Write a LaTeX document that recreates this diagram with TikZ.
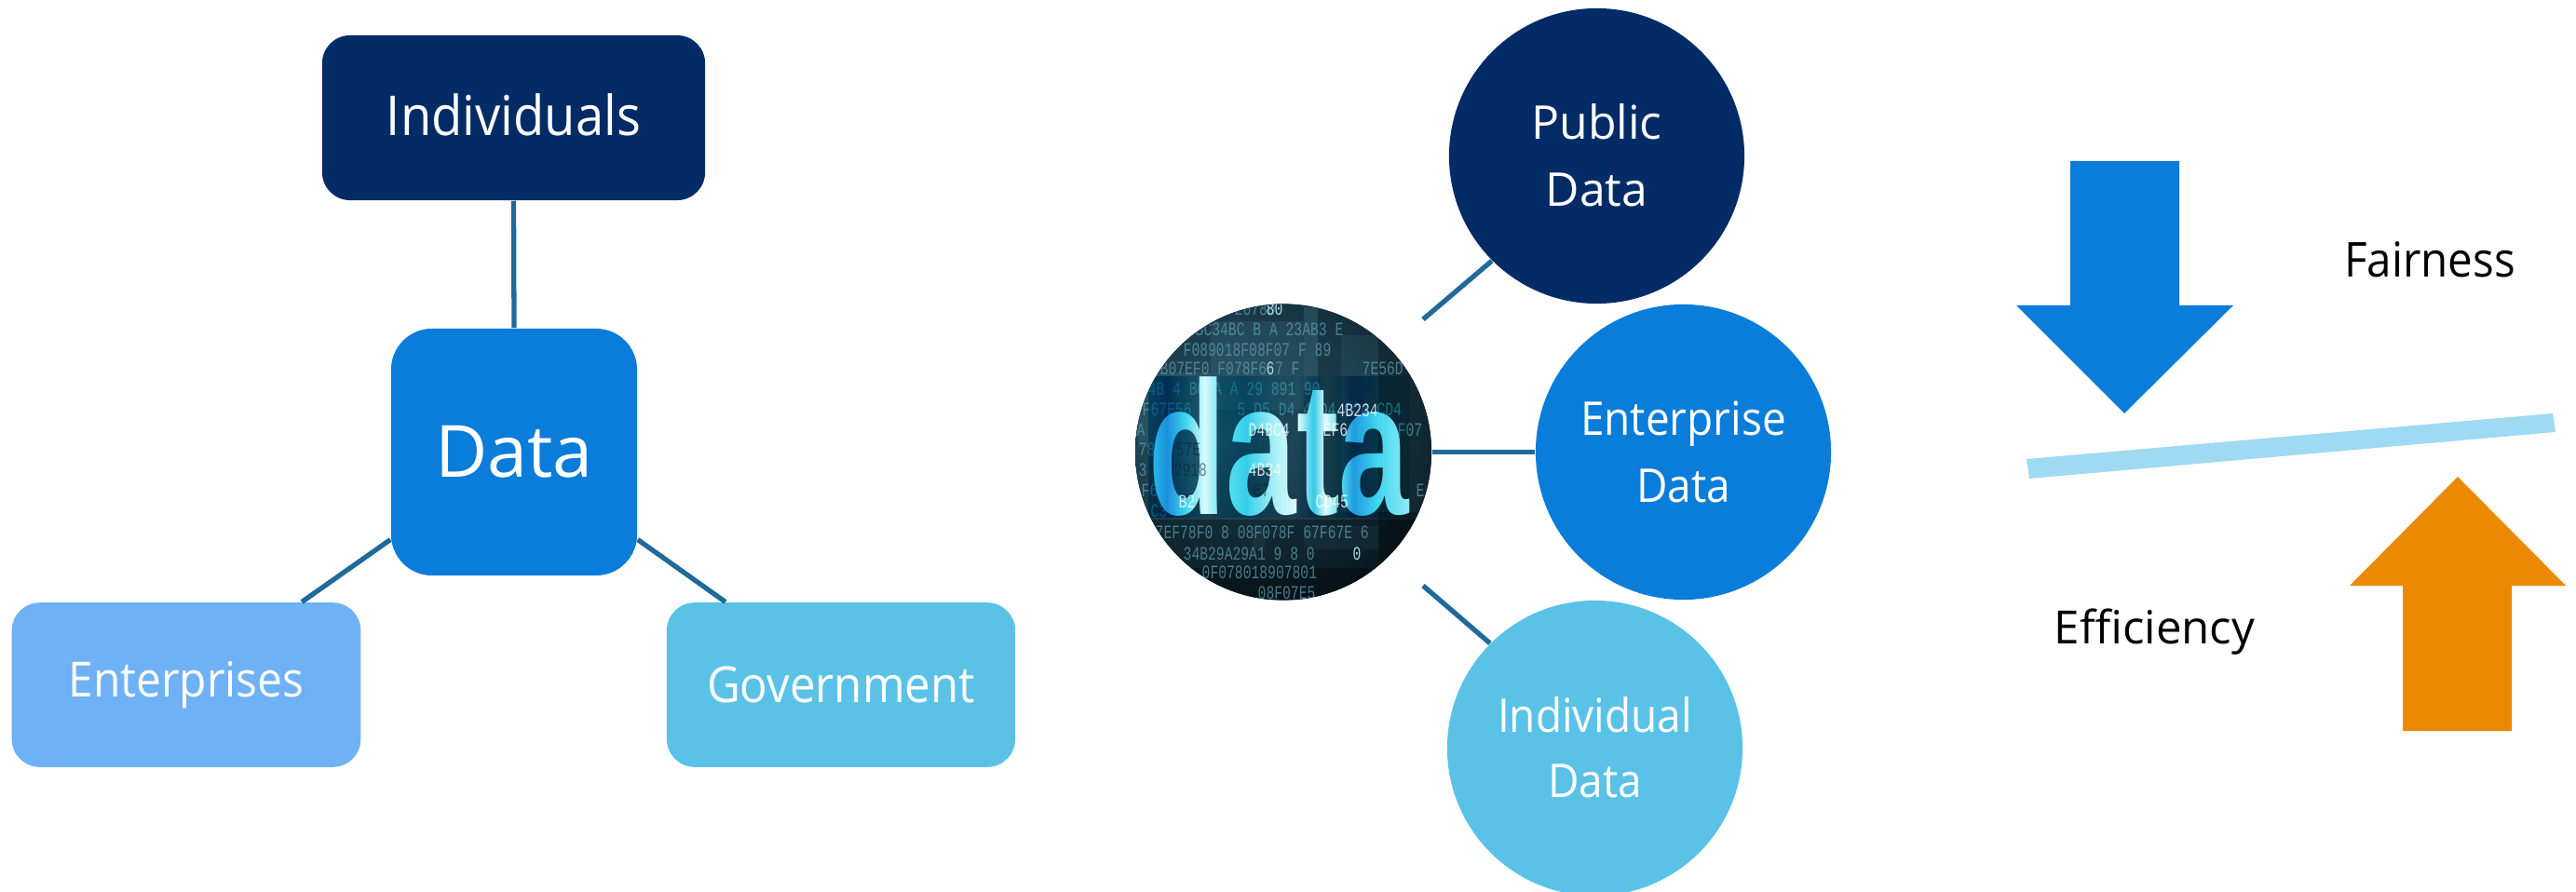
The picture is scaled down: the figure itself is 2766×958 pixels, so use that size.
\documentclass[tikz,border=0pt]{standalone}
\usepackage{fontspec}
\setmainfont{Open Sans}
\newfontfamily\nfont[FakeStretch=0.92]{Open Sans}
\newfontfamily\hexfont{Liberation Mono}
\newfontfamily\bigfont{Liberation Sans}[BoldFont={Liberation Sans Bold}]
\usetikzlibrary{calc,positioning,shapes.geometric}
\definecolor{navy}{HTML}{032C67}
\definecolor{midblue}{HTML}{0A7CD9}
\definecolor{softblue}{HTML}{6FB1F5}
\definecolor{teal}{HTML}{5BC2E7}
\definecolor{linkc}{HTML}{1F6A99}
\definecolor{orangec}{HTML}{EB8900}
\definecolor{barc}{HTML}{A0D9F2}
\definecolor{hexc}{HTML}{5A9AAE}
\definecolor{hexb}{HTML}{A9DAE4}
\definecolor{hubIn}{HTML}{2A5669}
\definecolor{hubOut}{HTML}{0D222C}
\definecolor{wA}{HTML}{2AC6E8}
\definecolor{wB}{HTML}{1C8FDC}
\definecolor{wC}{HTML}{3FD6EE}
\definecolor{wD}{HTML}{D8FAFC}
\definecolor{wE}{HTML}{5FE3F2}
\definecolor{wF}{HTML}{34CFEA}
\definecolor{wG}{HTML}{A8F0F8}
\definecolor{wH}{HTML}{E0FBFC}
\definecolor{wI}{HTML}{35C8E6}
\definecolor{wJ}{HTML}{1F9ADF}
\definecolor{wK}{HTML}{8FEBF5}
\pgfdeclarehorizontalshading{wordshade}{100bp}{
 color(0bp)=(wA);
 color(25bp)=(wA);
 color(28.6bp)=(wB);
 color(32.1bp)=(wC);
 color(35.7bp)=(wD);
 color(39.3bp)=(wE);
 color(43.8bp)=(wF);
 color(49.1bp)=(wG);
 color(53.6bp)=(wH);
 color(56.6bp)=(wI);
 color(58.9bp)=(wH);
 color(61.6bp)=(wE);
 color(64.3bp)=(wJ);
 color(68.8bp)=(wC);
 color(75bp)=(wK);
 color(100bp)=(wK)}
\tikzset{
 x=0.01cm,y=-0.01cm,
 boxnode/.style={draw=none,rounded corners=0.3cm,inner sep=0pt,text=white,align=center},
 circ/.style={circle,minimum size=3.17cm,inner sep=0pt,text=white,align=center},
 link/.style={draw=linkc,line width=1.5pt},
 hexrow/.style={anchor=base west,inner sep=0pt,text=hexc,text opacity=.75,font=\hexfont\fontsize{5.8}{6}\selectfont},
 hexbright/.style={hexrow,text=hexb,text opacity=1},
 hexover/.style={hexrow,text=white,text opacity=.8},
 hexdark/.style={hexrow,text=hubOut,text opacity=.55},
 dtext/.style={inner sep=0pt,font=\bigfont\bfseries\fontsize{58}{60}\selectfont},
 label/.style={inner sep=0pt,text=black,anchor=base},
}
\newcommand{\sq}[1]{\scalebox{.72}[1]{#1}}
\newcommand{\dw}{\scalebox{.665}[1]{data}}
\begin{document}
\begin{tikzpicture}
\useasboundingbox (0,0) rectangle (2766,958);
% left cluster
\node[boxnode,fill=navy,minimum width=4.11cm,minimum height=1.77cm] (indiv) at (551.5,126.5) {\raisebox{2pt}{\nfont\fontsize{16.8}{19}\selectfont Individuals}};
\node[boxnode,fill=midblue,minimum width=2.64cm,minimum height=2.65cm,rounded corners=0.44cm,font=\fontsize{22}{26}\selectfont] (dat) at (552,485.5) {Data};
\node[boxnode,fill=softblue,minimum width=3.745cm,minimum height=1.765cm,font=\nfont\fontsize{14.8}{18}\selectfont] (ent) at (200,735.5) {\raisebox{-1.5pt}{Enterprises}};
\node[boxnode,fill=teal,minimum width=3.74cm,minimum height=1.765cm,font=\nfont\fontsize{15.2}{18}\selectfont] (gov) at (903,735.5) {Government};
\draw[link] (indiv.south) -- (dat.north);
\draw[link] ([yshift=-0.94cm]dat.west) -- ([xshift=1.24cm]ent.north);
\draw[link] ([yshift=-0.94cm]dat.east) -- ([xshift=-1.24cm]gov.north);
% middle cluster
\node[circle,minimum size=3.18cm,inner sep=0pt,fill=hubOut] (hub) at (1378,485.5) {};
\begin{scope}
\clip (1378,485.5) circle[radius=159];
\shade[inner color=hubIn,outer color=hubOut] (1080,230) rectangle (1560,710);
\fill[hexc,opacity=.18] (1222,400) rectangle (1300,480);
\fill[hexc,opacity=.14] (1300,345) rectangle (1400,440);
\fill[hexc,opacity=.22] (1400,330) rectangle (1415,420);
\fill[hexc,opacity=.12] (1440,360) rectangle (1537,550);
\fill[hexc,opacity=.22] (1260,480) rectangle (1290,530);
\fill[hexc,opacity=.18] (1345,565) rectangle (1358,590);
\fill[hexc,opacity=.14] (1400,565) rectangle (1480,590);
\fill[black,opacity=.35] (1219,558) rectangle (1537,644);
\fill[black,opacity=.3] (1219,610) rectangle (1537,644);
\fill[black,opacity=.25] (1480,327) rectangle (1537,644);
\node[hexrow] at (1325,339) {\sq{20780}};
\node[hexrow] at (1283,361) {\sq{BC34BC B A 23AB3 E}};
\node[hexrow] at (1270,383) {\sq{F089018F08F07 F 89}};
\node[hexrow] at (1245,403) {\sq{B07EF0 F078F6 7 F}};
\node[hexrow] at (1462,403) {\sq{7E56D}};
\node[hexrow] at (1232,425) {\sq{4B 4 BC A A 29 891 90}};
\node[hexrow] at (1226,447) {\sq{F67E56}};
\node[hexrow] at (1328,447) {\sq{5 D5 D4 4CD4 CD4 CD4}};
\node[hexrow] at (1220,469) {\sq{A}};
\node[hexrow] at (1500,469) {\sq{F07}};
\node[hexrow] at (1222,490) {\sq{78F}};
\node[hexrow] at (1222,512) {\sq{3 D4}};
\node[hexrow] at (1225,534) {\sq{F6}};
\node[hexrow] at (1520,534) {\sq{E}};
\node[hexrow] at (1235,555) {\sq{C3}};
\node[hexrow] at (1240,579) {\sq{7EF78F0 8 08F078F 67F67E 6}};
\node[hexrow] at (1270,601) {\sq{34B29A29A1 9 8 0}};
\node[hexrow] at (1290,622) {\sq{0F078018907801}};
\node[hexrow] at (1350,643) {\sq{08F07E5}};
\node[hexbright] at (1359,339) {\sq{80}};
\node[hexbright] at (1359,403) {\sq{6}};
\node[hexbright] at (1452,601) {\sq{0}};
% the word
\node[dtext,text=white,anchor=base west] (word) at (1233,553) {\dw};
\shade[shading=wordshade,blend mode=multiply] (word.south west) rectangle (word.north east);
\node[hexover] at (1420,469) {\sq{EF6}};
\node[hexover] at (1435,448) {\sq{4B234}};
\node[hexover] at (1412,545) {\sq{CD45}};
\node[hexover] at (1340,469) {\sq{D4BC4}};
\node[hexdark] at (1262,490) {\sq{57E}};
\node[hexdark] at (1260,512) {\sq{2918}};
\node[hexover] at (1340,512) {\sq{4B34}};
\node[hexdark] at (1345,534) {\sq{67}};
\node[hexover] at (1265,545) {\sq{B2}};
\end{scope}
\node[circ,fill=navy,font=\fontsize{14.2}{20.5}\selectfont] (pub) at (1714.5,167.5) {\raisebox{.8pt}{Public}\\\raisebox{.8pt}{Data}};
\node[circ,fill=midblue,font=\nfont\fontsize{14.2}{20.5}\selectfont] (entd) at (1807.5,485.5) {Enterprise\\Data};
\node[circ,fill=teal,font=\nfont\fontsize{14.2}{20.5}\selectfont] (indd) at (1712.5,803.5) {Individual\\\raisebox{.5pt}{Data}};
\coordinate (c1) at (1528,343);
\coordinate (c2) at (1528,629);
\draw[link] (c1) -- (pub.225);
\draw[link] (hub.east) -- (entd.west);
\draw[link] (c2) -- (indd.135);
% right cluster
\fill[midblue] (2223,173) -- (2340,173) -- (2340,328) -- (2398,328) -- (2281,444) -- (2165,328) -- (2223,328) -- cycle;
\fill[orangec] (2580,785) -- (2697,785) -- (2697,629) -- (2755,629) -- (2639,512) -- (2523,629) -- (2580,629) -- cycle;
\fill[barc] (2176,493) -- (2179,514) -- (2744,464) -- (2741,444) -- cycle;
\node[label,font=\nfont\fontsize{14.7}{17}\selectfont] (fair) at (2609,298) {Fairness};
\node[label,font=\fontsize{14}{17}\selectfont] (effi) at (2313.5,692) {Efficiency};
\end{tikzpicture}
\end{document}
